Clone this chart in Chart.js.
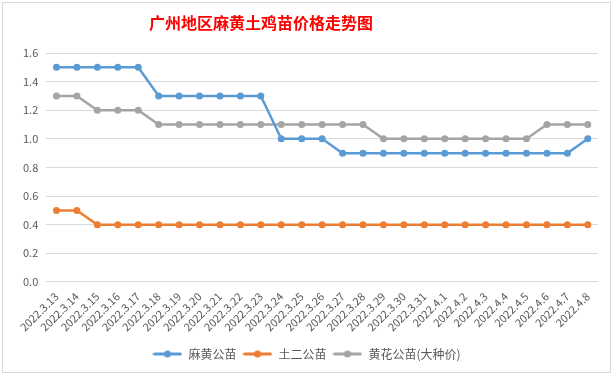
<!DOCTYPE html>
<html>
<head>
<meta charset="utf-8">
<script src="https://cdn.jsdelivr.net/npm/chart.js@4"></script>
<style>
  html,body{margin:0;padding:0;background:#fff;}
  #box{position:absolute;left:2px;top:2px;width:607px;height:369px;border:1px solid #d9d9d9;background:#fff;}
</style>
</head>
<body>
<div id="box"><canvas id="c" width="607" height="369"></canvas></div>
<script>
const dates=['2022.3.13','2022.3.14','2022.3.15','2022.3.16','2022.3.17','2022.3.18','2022.3.19','2022.3.20','2022.3.21','2022.3.22','2022.3.23','2022.3.24','2022.3.25','2022.3.26','2022.3.27','2022.3.28','2022.3.29','2022.3.30','2022.3.31','2022.4.1','2022.4.2','2022.4.3','2022.4.4','2022.4.5','2022.4.6','2022.4.7','2022.4.8'];
const mahuang=[1.5,1.5,1.5,1.5,1.5,1.3,1.3,1.3,1.3,1.3,1.3,1.0,1.0,1.0,0.9,0.9,0.9,0.9,0.9,0.9,0.9,0.9,0.9,0.9,0.9,0.9,1.0];
const tuer=[0.5,0.5,0.4,0.4,0.4,0.4,0.4,0.4,0.4,0.4,0.4,0.4,0.4,0.4,0.4,0.4,0.4,0.4,0.4,0.4,0.4,0.4,0.4,0.4,0.4,0.4,0.4];
const huanghua=[1.3,1.3,1.2,1.2,1.2,1.1,1.1,1.1,1.1,1.1,1.1,1.1,1.1,1.1,1.1,1.1,1.0,1.0,1.0,1.0,1.0,1.0,1.0,1.0,1.1,1.1,1.1];
const names=['麻黄公苗','土二公苗','黄花公苗(大种价)'];
const colors=['#5b9bd5','#ed7d31','#a5a5a5'];
const titleText='广州地区麻黄土鸡苗价格走势图';

const font='"Microsoft YaHei","Noto Sans CJK SC","DejaVu Sans",sans-serif';

// legend marker: short line with a dot in the middle
function marker(color){
  const c=document.createElement('canvas');c.width=30;c.height=10;
  const g=c.getContext('2d');
  g.strokeStyle=color;g.lineWidth=3;g.lineCap='round';
  g.beginPath();g.moveTo(2,5);g.lineTo(28,5);g.stroke();
  g.fillStyle=color;g.beginPath();g.arc(15,5,3.5,0,Math.PI*2);g.fill();
  return c;
}

const mk=(i,data)=>({label:names[i],data,borderColor:colors[i],backgroundColor:colors[i],borderWidth:2.5,pointRadius:3.5,pointHoverRadius:3.5,pointBorderWidth:0,tension:0,pointStyle:'circle'});

const titlePlugin={id:'offTitle',afterDraw(ch){
  const g=ch.ctx;g.save();
  g.fillStyle='#ff0000';g.font='bold 16px "Noto Sans CJK SC",sans-serif';
  g.textAlign='center';g.textBaseline='middle';
  g.fillText(titleText,258,20);
  g.restore();
}};

new Chart(document.getElementById('c'),{
  type:'line',
  data:{labels:dates,datasets:[mk(0,mahuang),mk(1,tuer),mk(2,huanghua)]},
  plugins:[titlePlugin],
  options:{
    responsive:false,animation:false,
    layout:{padding:{left:12,right:12,top:50,bottom:2}},
    plugins:{
      legend:{position:'bottom',
        title:{display:true,text:'',font:{size:1},padding:{top:3,bottom:4}},
        labels:{color:'#595959',font:{family:font,size:12},usePointStyle:true,pointStyleWidth:30,padding:6,
        generateLabels:(ch)=>ch.data.datasets.map((d,i)=>({text:d.label,pointStyle:marker(colors[i]),fillStyle:colors[i],strokeStyle:colors[i],lineWidth:0,datasetIndex:i,fontColor:'#595959'}))}},
      tooltip:{enabled:false}
    },
    scales:{
      x:{offset:true,grid:{display:false},border:{display:false},
        ticks:{color:'#595959',font:{family:font,size:11},maxRotation:45,minRotation:45,autoSkip:false,padding:0}},
      y:{min:0,max:1.6,border:{display:false},grid:{color:'#d9d9d9',drawTicks:false},
        ticks:{stepSize:0.2,color:'#595959',font:{family:font,size:11},padding:8,callback:v=>v.toFixed(1)}}
    }
  }
});
</script>
</body>
</html>
